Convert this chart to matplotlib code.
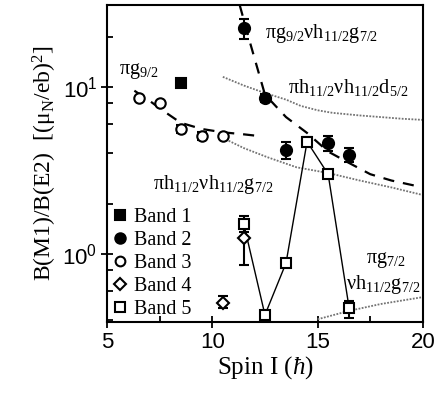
import numpy as np
import matplotlib
matplotlib.use("Agg")
import matplotlib.pyplot as plt
from matplotlib.lines import Line2D
from matplotlib.ticker import FixedLocator, FixedFormatter, NullFormatter

plt.rcParams['font.family'] = ['Liberation Serif', 'DejaVu Serif']
plt.rcParams['mathtext.fontset'] = 'custom'
plt.rcParams['mathtext.rm'] = 'Liberation Serif'
plt.rcParams['mathtext.it'] = 'Liberation Serif:italic'
plt.rcParams['mathtext.sf'] = 'Liberation Sans'

# data
b1_x = [8.5]
b1_y = [10.5]

b2_x = [11.5, 12.5, 13.5, 15.5, 16.5]
b2_y = [22.5, 8.6, 4.2, 4.6, 3.9]
b2_lo = [3.2, 0.5, 0.5, 0.45, 0.35]
b2_hi = [2.9, 0.5, 0.5, 0.5, 0.4]

b3_x = [6.5, 7.5, 8.5, 9.5, 10.5]
b3_y = [8.6, 8.0, 5.6, 5.1, 5.1]
b3_err = [0.0, 0.0, 0.3, 0.3, 0.0]

b4_x = [10.5, 11.5]
b4_y = [0.51, 1.25]
b4_lo = [0.04, 0.39]
b4_hi = [0.05, 0.25]

b5_x = [11.5, 12.5, 13.5, 14.5, 15.5, 16.5]
b5_y = [1.5, 0.43, 0.88, 4.7, 3.0, 0.47]
b5_lo = [0.15, 0.0, 0.05, 0.3, 0.15, 0.06]
b5_hi = [0.18, 0.0, 0.05, 0.3, 0.15, 0.05]

# theory curves
dashA_x = [11.3, 11.8, 12.5, 13.5, 14.5, 15.5, 16.5, 17.5, 18.5, 20.0]
dashA_y = [31.0, 18.3, 9.0, 6.6, 5.3, 4.1, 3.5, 3.0, 2.75, 2.5]
dashB_x = [6.3, 7.0, 7.6, 8.5, 9.5, 10.5, 11.5, 12.4]
dashB_y = [9.5, 8.3, 7.3, 6.1, 5.6, 5.35, 5.2, 5.05]
dot1_x = [10.5, 11.5, 12.5, 13.5, 14.2, 15.0, 15.7, 17.0, 18.0, 19.0, 20.0]
dot1_y = [11.5, 10.2, 9.2, 8.4, 7.7, 7.25, 7.0, 6.75, 6.6, 6.45, 6.35]
dot2_x = [10.5, 11.5, 12.6, 14.0, 15.5, 17.0, 18.5, 20.0]
dot2_y = [4.95, 4.3, 3.8, 3.3, 3.05, 2.75, 2.5, 2.25]
dot3_x = [15.0, 16.5, 18.0, 20.0]
dot3_y = [0.405, 0.455, 0.5, 0.55]

band_names = ['Band 1', 'Band 2', 'Band 3', 'Band 4', 'Band 5']

fig = plt.figure(figsize=(4.41, 4.01), dpi=100)
ax = fig.add_axes([0.2426, 0.197, 0.7164, 0.7905])
ax.set_yscale('log')

dot = dict(color='0.45', lw=1.3, ls=(0, (1, 0.8)))
ax.plot(dot1_x, dot1_y, **dot)
ax.plot(dot2_x, dot2_y, **dot)
ax.plot(dot3_x, dot3_y, **dot)
ax.plot(dashA_x, dashA_y, color='k', lw=1.6, dashes=(5, 4))
ax.plot(dashB_x, dashB_y, color='k', lw=1.6, dashes=(5, 4))

eb = dict(ecolor='k', elinewidth=1.5, capsize=3.5, capthick=1.5, ls='none',
          mec='k', mew=1.5)
ax.plot(b5_x, b5_y, color='k', lw=1.0)
ax.errorbar(b1_x, b1_y, fmt='s', ms=7.5, mfc='k', **eb)
ax.errorbar(b2_x, b2_y, yerr=[b2_lo, b2_hi], fmt='o', ms=8, mfc='k', **eb)
ax.errorbar(b3_x, b3_y, yerr=b3_err, fmt='o', ms=7.5, mfc='w', **eb)
ax.errorbar(b4_x, b4_y, yerr=[b4_lo, b4_hi], fmt='D', ms=6.5, mfc='w', **eb)
ax.errorbar(b5_x, b5_y, yerr=[b5_lo, b5_hi], fmt='s', ms=7.5, mfc='w',
            clip_on=False, **eb)

ax.set_xlim(5, 20)
ax.set_ylim(0.39, 31)

fs = 14.5
ax.text(5.55, 12.5, 'πg$_{9/2}$', fontsize=fs, va='center')
ax.text(12.5, 21, 'πg$_{9/2}$νh$_{11/2}$g$_{7/2}$', fontsize=fs, va='center')
ax.text(13.6, 9.9, 'πh$_{11/2}$νh$_{11/2}$d$_{5/2}$', fontsize=fs, va='center')
ax.text(7.2, 2.6, 'πh$_{11/2}$νh$_{11/2}$g$_{7/2}$', fontsize=fs, va='center')
ax.text(17.3, 0.92, 'πg$_{7/2}$', fontsize=fs, va='center')
ax.text(16.35, 0.65, 'νh$_{11/2}$g$_{7/2}$', fontsize=fs, va='center')

handles = [
    Line2D([], [], ls='none', marker='s', ms=7, mfc='k', mec='k', mew=1.5),
    Line2D([], [], ls='none', marker='o', ms=7.5, mfc='k', mec='k', mew=1.5),
    Line2D([], [], ls='none', marker='o', ms=7, mfc='w', mec='k', mew=1.5),
    Line2D([], [], ls='none', marker='D', ms=6, mfc='w', mec='k', mew=1.5),
    Line2D([], [], ls='none', marker='s', ms=7, mfc='w', mec='k', mew=1.5),
]
ax.legend(handles, band_names, loc='upper left', bbox_to_anchor=(0.0, 0.38),
          frameon=False, fontsize=fs, handlelength=0.7, handletextpad=0.35,
          labelspacing=0.2, borderaxespad=0.2, borderpad=0.1)

ax.set_xticks([5, 10, 15, 20])
ax.set_xticks([7.5, 12.5, 17.5], minor=True)
ax.set_xticklabels(['5', '10', '15', '20'], family='Liberation Sans', fontsize=16)
ax.yaxis.set_major_locator(FixedLocator([1, 10]))
ax.yaxis.set_major_formatter(FixedFormatter([r'$\mathsf{10^{0}}$', r'$\mathsf{10^{1}}$']))
ax.yaxis.set_minor_locator(FixedLocator([0.4, 0.6, 0.8, 2, 4, 6, 8, 20]))
ax.yaxis.set_minor_formatter(NullFormatter())
ax.tick_params(which='major', direction='inout', length=8, width=1.3,
               labelsize=16, top=False, right=False, pad=3)
ax.tick_params(which='minor', direction='in', length=4, width=1.3,
               top=False, right=False)
for s in ax.spines.values():
    s.set_linewidth(1.5)

ax.set_xlabel('Spin I ($\\hbar$)', fontsize=18, labelpad=1)
ax.set_ylabel('B(M1)/B(E2)  [(μ$_{\\rm N}$/eb)$^2$]', fontsize=17, labelpad=2)

fig.savefig('out.png', dpi=100)
